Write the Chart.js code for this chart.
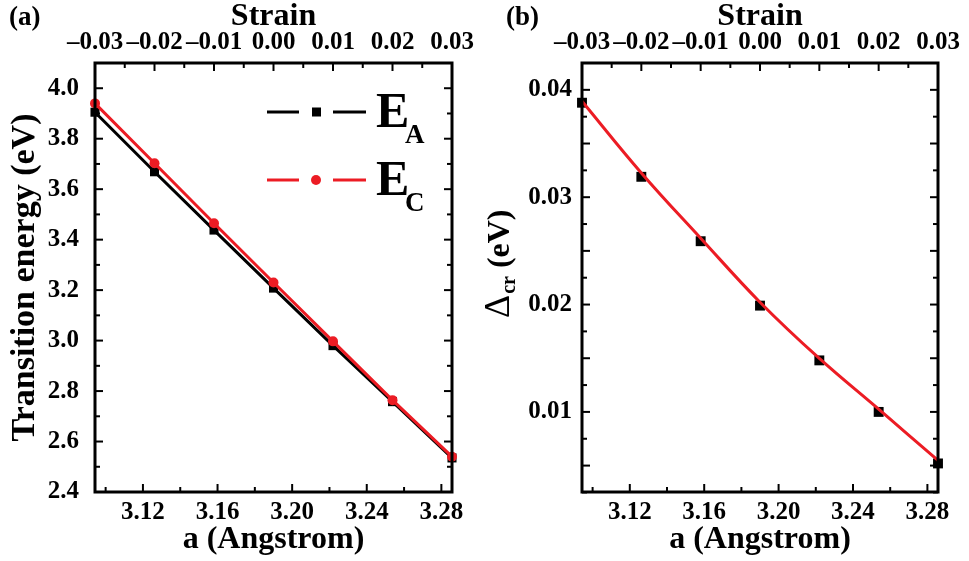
<!DOCTYPE html>
<html>
<head>
<meta charset="utf-8">
<script src="https://cdn.jsdelivr.net/npm/chart.js@4.4.1/dist/chart.umd.min.js"></script>
<style>
  body { margin: 0; background: #fff; }
  #wrap { position: relative; width: 969px; height: 561px; }
  canvas { position: absolute; top: 0; }
</style>
</head>
<body>
<div id="wrap">
  <canvas id="chartA" width="485" height="561" style="left:0"></canvas>
  <canvas id="chartB" width="484" height="561" style="left:485px"></canvas>
</div>
<script>
// data
const strain = [-0.03, -0.02, -0.01, 0.00, 0.01, 0.02, 0.03];
const latticeA = [3.0943, 3.1262, 3.1581, 3.1900, 3.2219, 3.2538, 3.2857];
const energyA = [3.905, 3.669, 3.438, 3.208, 2.980, 2.758, 2.535];
const energyC = [3.940, 3.703, 3.465, 3.230, 2.997, 2.764, 2.540];
const deltaCr = [0.0388, 0.0319, 0.0259, 0.0199, 0.0148, 0.0100, 0.0052];
// red fitted curve, read at the same lattice constants
const deltaFit = [0.03894, 0.03226, 0.02618, 0.02022, 0.01498, 0.01025, 0.00549];

// tick values
const aTicks = [3.12, 3.16, 3.20, 3.24, 3.28];
const aMinor = [3.10, 3.14, 3.18, 3.22, 3.26];
const strainTicks = [-0.03, -0.02, -0.01, 0.00, 0.01, 0.02, 0.03];
const strainMinor = [-0.025, -0.015, -0.005, 0.005, 0.015, 0.025];
const energyTicks = [2.4, 2.6, 2.8, 3.0, 3.2, 3.4, 3.6, 3.8, 4.0];
const energyMinor = [2.5, 2.7, 2.9, 3.1, 3.3, 3.5, 3.7, 3.9];
const deltaTicks = [0.01, 0.02, 0.03, 0.04];
const deltaMajor = [0.005, 0.01, 0.015, 0.02, 0.025, 0.03, 0.035, 0.04];
const deltaMinor = [0.0025, 0.0075, 0.0125, 0.0175, 0.0225, 0.0275, 0.0325, 0.0375];

const RED = '#ec1c24';
const FAMILY = "'Liberation Serif', 'Times New Roman', serif";
const tickFont = {family: FAMILY, size: 25, weight: 'bold'};
const titleFont = {family: FAMILY, size: 32, weight: 'bold', lineHeight: 1};

function pts(xs, ys) {
  return xs.map((x, i) => ({x: x, y: ys[i]}));
}

// frame + inward tick marks on all four sides
const frameTicks = {
  id: 'frameTicks',
  afterDraw(chart, args, o) {
    const ctx = chart.ctx, ca = chart.chartArea;
    const sx = chart.scales.x, sx2 = chart.scales.x2, sy = chart.scales.y;
    ctx.save();
    ctx.strokeStyle = '#000';
    ctx.lineWidth = 2;
    [[o.bottomMajor, 8], [o.bottomMinor, 5]].forEach(([vals, len]) => {
      vals.forEach(v => {
        const px = sx.getPixelForValue(v);
        ctx.beginPath(); ctx.moveTo(px, ca.bottom); ctx.lineTo(px, ca.bottom - len); ctx.stroke();
      });
    });
    [[o.topMajor, 8], [o.topMinor, 5]].forEach(([vals, len]) => {
      vals.forEach(v => {
        const px = sx2.getPixelForValue(v);
        ctx.beginPath(); ctx.moveTo(px, ca.top); ctx.lineTo(px, ca.top + len); ctx.stroke();
      });
    });
    [[o.leftMajor, 8], [o.leftMinor, 5]].forEach(([vals, len]) => {
      vals.forEach(v => {
        const py = sy.getPixelForValue(v);
        ctx.beginPath(); ctx.moveTo(ca.left, py); ctx.lineTo(ca.left + len, py); ctx.stroke();
        ctx.beginPath(); ctx.moveTo(ca.right, py); ctx.lineTo(ca.right - len, py); ctx.stroke();
      });
    });
    ctx.lineWidth = 3;
    ctx.strokeRect(ca.left, ca.top, ca.right - ca.left, ca.bottom - ca.top);
    ctx.restore();
  }
};

// panel letter, legend and subscripted titles
const extraText = {
  id: 'extraText',
  afterDraw(chart, args, o) {
    const ctx = chart.ctx;
    ctx.save();
    ctx.fillStyle = '#000';
    ctx.textBaseline = 'alphabetic';
    ctx.font = 'bold 27px ' + FAMILY;
    ctx.fillText(o.panel, o.panelX, 25);
    (o.legend || []).forEach(row => {
      ctx.strokeStyle = row.color;
      ctx.fillStyle = row.color;
      ctx.lineWidth = 3;
      ctx.beginPath(); ctx.moveTo(267, row.y); ctx.lineTo(299, row.y); ctx.stroke();
      ctx.beginPath(); ctx.moveTo(333, row.y); ctx.lineTo(366, row.y); ctx.stroke();
      if (row.style === 'rect') {
        ctx.fillRect(312, row.y - 4.5, 9, 9);
      } else {
        ctx.beginPath(); ctx.arc(316, row.y, 5, 0, Math.PI * 2); ctx.fill();
      }
      ctx.fillStyle = '#000';
      ctx.font = 'bold 50px ' + FAMILY;
      ctx.fillText('E', 376, row.y + 15);
      ctx.font = 'bold 27px ' + FAMILY;
      ctx.fillText(row.sub, 405, row.y + 31);
    });
    if (o.yTitle) {
      ctx.translate(o.yTitle.x, o.yTitle.y);
      ctx.rotate(-Math.PI / 2);
      ctx.font = '36px ' + FAMILY;
      ctx.fillText('\u0394', 0, 0);
      let w = ctx.measureText('\u0394').width;
      ctx.font = 'bold 20px ' + FAMILY;
      ctx.fillText('cr', w + 1, 6);
      w += 1 + ctx.measureText('cr').width;
      ctx.font = 'bold 32px ' + FAMILY;
      ctx.fillText(' (eV)', w, 0);
    }
    ctx.restore();
  }
};

function scalesFor(yMin, yMax, yTicks, yFmt, yLeft, yPadding, yTitle) {
  return {
    x: {
      type: 'linear', position: 'bottom', min: 3.0943, max: 3.2857,
      grid: {display: false, drawTicks: false}, border: {display: false},
      afterBuildTicks: s => { s.ticks = aTicks.map(v => ({value: v})); },
      afterFit: s => { s.height = 69; s.paddingLeft = 0; s.paddingRight = 0; },
      ticks: {font: tickFont, color: '#000', padding: 6, maxRotation: 0, autoSkip: false,
        callback: v => v.toFixed(2)},
      title: {display: true, text: 'a (Angstrom)', font: titleFont, color: '#000', padding: {top: 0, bottom: 5}}
    },
    x2: {
      type: 'linear', position: 'top', min: -0.03, max: 0.03,
      grid: {display: false, drawTicks: false}, border: {display: false},
      afterBuildTicks: s => { s.ticks = strainTicks.map(v => ({value: v})); },
      afterFit: s => { s.height = 63; s.paddingLeft = 0; s.paddingRight = 0; },
      ticks: {font: tickFont, color: '#000', padding: 5, maxRotation: 0, autoSkip: false,
        callback: v => (Math.abs(v) < 1e-9 ? 0 : v).toFixed(2).replace('-', '\u2013')},
      title: {display: true, text: 'Strain', font: titleFont, color: '#000', padding: {top: 1, bottom: 0}}
    },
    y: {
      type: 'linear', position: 'left', min: yMin, max: yMax,
      grid: {display: false, drawTicks: false}, border: {display: false},
      afterBuildTicks: s => { s.ticks = yTicks.map(v => ({value: v})); },
      afterFit: s => { s.width = yLeft; s.paddingTop = 0; s.paddingBottom = 0; },
      ticks: {font: tickFont, color: '#000', padding: yPadding, autoSkip: false, callback: yFmt},
      title: yTitle
    }
  };
}

new Chart('chartA', {
  type: 'line',
  data: {
    datasets: [{
      label: 'EC',
      data: pts(latticeA, energyC),
      borderColor: RED, backgroundColor: RED, borderWidth: 3,
      pointStyle: 'circle', pointRadius: 5, pointBorderWidth: 0,
      clip: false, order: 0
    }, {
      label: 'EA',
      data: pts(latticeA, energyA),
      borderColor: '#000', backgroundColor: '#000', borderWidth: 3,
      pointStyle: 'rect', pointRadius: 6.4, pointBorderWidth: 0,
      clip: false, order: 1
    }]
  },
  options: {
    responsive: false, animation: false, devicePixelRatio: 1,
    layout: {padding: {left: 0, right: 33, top: 0, bottom: 0}},
    plugins: {
      legend: {display: false}, tooltip: {enabled: false},
      frameTicks: {bottomMajor: aTicks, bottomMinor: aMinor, topMajor: strainTicks, topMinor: strainMinor,
        leftMajor: energyTicks, leftMinor: energyMinor},
      extraText: {panel: '(a)', panelX: 9, legend: [
        {y: 112, color: '#000', style: 'rect', sub: 'A'},
        {y: 180, color: RED, style: 'circle', sub: 'C'}
      ]}
    },
    scales: scalesFor(2.4, 4.1, energyTicks, v => v.toFixed(1), 95, 16,
      {display: true, text: 'Transition energy (eV)', font: {family: FAMILY, size: 34, weight: 'bold', lineHeight: 1},
        color: '#000', padding: {top: 8, bottom: 0}})
  },
  plugins: [frameTicks, extraText]
});

new Chart('chartB', {
  type: 'line',
  data: {
    datasets: [{
      label: 'fit',
      data: pts(latticeA, deltaFit),
      borderColor: RED, borderWidth: 3, pointRadius: 0,
      tension: 0.4,
      clip: false, order: 0
    }, {
      label: 'delta',
      data: pts(latticeA, deltaCr),
      showLine: false, backgroundColor: '#000', borderColor: '#000',
      pointStyle: 'rect', pointRadius: 7, pointBorderWidth: 0,
      clip: false, order: 1
    }]
  },
  options: {
    responsive: false, animation: false, devicePixelRatio: 1,
    layout: {padding: {left: 0, right: 31, top: 0, bottom: 0}},
    plugins: {
      legend: {display: false}, tooltip: {enabled: false},
      frameTicks: {bottomMajor: aTicks, bottomMinor: aMinor, topMajor: strainTicks, topMinor: strainMinor,
        leftMajor: deltaMajor, leftMinor: deltaMinor},
      extraText: {panel: '(b)', panelX: 21, yTitle: {x: 24, y: 318}}
    },
    scales: scalesFor(0.00254, 0.0425, deltaTicks, v => v.toFixed(2), 97, 10, {display: false})
  },
  plugins: [frameTicks, extraText]
});
</script>
</body>
</html>
